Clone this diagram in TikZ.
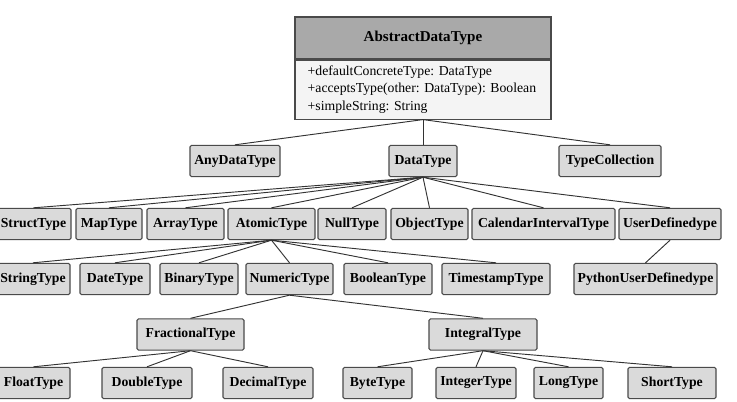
\documentclass[tikz,border=0pt]{standalone}
\usepackage{fontspec}
\setmainfont{Liberation Serif}
\definecolor{boxfill}{HTML}{DADADA}
\definecolor{headfill}{HTML}{A9A9A9}
\definecolor{attrfill}{HTML}{F4F4F4}
\definecolor{boxline}{HTML}{4A4A4A}
\begin{document}
\begin{tikzpicture}[x=0.75pt,y=-0.75pt,
   typebox/.style={draw=boxline,fill=boxfill,rounded corners=1.2pt,line width=0.8pt,inner sep=0pt,minimum height=23.5pt,font=\fontsize{10.3}{12}\selectfont\bfseries},
   link/.style={draw=black!80,line width=0.7pt}]
   \useasboundingbox (0,0) rectangle (737,402);
   % class box
   \node [draw=boxline,fill=headfill,line width=0.8pt,minimum width=192pt,minimum height=31.5pt,font=\fontsize{11.3}{13}\selectfont\bfseries] (adt) at (423,38) {AbstractDataType};
   \node [draw=boxline,fill=attrfill,line width=0.8pt,anchor=north,minimum width=192pt,minimum height=44.25pt,text width=173pt,inner xsep=9.5pt,align=left,font=\fontsize{10.3}{13}\selectfont\frenchspacing] (adtattrs) at (adt.south) {+defaultConcreteType: DataType\\+acceptsType(other: DataType): Boolean\\+simpleString: String};
   % first level
   \node [typebox,minimum width=67.5pt] (anytype) at (235,161) {AnyDataType};
   \node [typebox,minimum width=51pt] (dtype) at (423,161) {DataType};
   \node [typebox,minimum width=76.5pt] (typecoll) at (610,161) {TypeCollection};
   % second level
   \node [typebox,minimum width=56.25pt] (structtype) at (33.5,224) {StructType};
   \node [typebox,minimum width=49.5pt] (maptype) at (109,224) {MapType};
   \node [typebox,minimum width=57.75pt] (arraytype) at (185.5,224) {ArrayType};
   \node [typebox,minimum width=65.25pt] (atomictype) at (271.5,224) {AtomicType};
   \node [typebox,minimum width=51pt] (nulltype) at (352,224) {NullType};
   \node [typebox,minimum width=57.75pt] (objecttype) at (429.5,224) {ObjectType};
   \node [typebox,minimum width=107.25pt] (caltype) at (543.5,224) {CalendarIntervalType};
   \node [typebox,minimum width=76.5pt] (udtype) at (670,224) {UserDefinedype};
   % third level
   \node [typebox,minimum width=55.5pt] (stringtype) at (33,279) {StringType};
   \node [typebox,minimum width=52.5pt] (datetype) at (115,279) {DateType};
   \node [typebox,minimum width=58.5pt] (binarytype) at (199,279) {BinaryType};
   \node [typebox,minimum width=65.25pt] (numerictype) at (289.5,279) {NumericType};
   \node [typebox,minimum width=66pt] (booltype) at (388,279) {BooleanType};
   \node [typebox,minimum width=81pt] (tstype) at (496,279) {TimestampType};
   \node [typebox,minimum width=107.25pt] (pyudtype) at (645.5,279) {PythonUserDefinedype};
   % numeric types
   \node [typebox,minimum width=80.25pt] (fractype) at (190.5,334.5) {FractionalType};
   \node [typebox,minimum width=81pt] (integraltype) at (483,334.5) {IntegralType};
   \node [typebox,minimum width=54.75pt] (floattype) at (33.5,383) {FloatType};
   \node [typebox,minimum width=67.5pt] (doubletype) at (147,383) {DoubleType};
   \node [typebox,minimum width=67.5pt] (decimaltype) at (268,383) {DecimalType};
   \node [typebox,minimum width=51.75pt] (bytetype) at (377.5,383) {ByteType};
   \node [typebox,minimum width=60pt] (integertype) at (476,383) {IntegerType};
   \node [typebox,minimum width=51.75pt] (longtype) at (568.5,383) {LongType};
   \node [typebox,minimum width=66pt] (shorttype) at (672,383) {ShortType};
   % connectors
   \draw [link] (adtattrs.south)--(anytype.north);
   \draw [link] (adtattrs.south)--(dtype.north);
   \draw [link] (adtattrs.south)--(typecoll.north);
   \draw [link] (dtype.south)--(structtype.north);
   \draw [link] (dtype.south)--(maptype.north);
   \draw [link] (dtype.south)--(arraytype.north);
   \draw [link] (dtype.south)--(atomictype.north);
   \draw [link] (dtype.south)--(nulltype.north);
   \draw [link] (dtype.south)--(objecttype.north);
   \draw [link] (dtype.south)--(caltype.north);
   \draw [link] (dtype.south)--(udtype.north);
   \draw [link] (atomictype.south)--(stringtype.north);
   \draw [link] (atomictype.south)--(datetype.north);
   \draw [link] (atomictype.south)--(binarytype.north);
   \draw [link] (atomictype.south)--(numerictype.north);
   \draw [link] (atomictype.south)--(booltype.north);
   \draw [link] (atomictype.south)--(tstype.north);
   \draw [link] (udtype.south)--(pyudtype.north);
   \draw [link] (numerictype.south)--(fractype.north);
   \draw [link] (numerictype.south)--(integraltype.north);
   \draw [link] (fractype.south)--(floattype.north);
   \draw [link] (fractype.south)--(doubletype.north);
   \draw [link] (fractype.south)--(decimaltype.north);
   \draw [link] (integraltype.south)--(bytetype.north);
   \draw [link] (integraltype.south)--(integertype.north);
   \draw [link] (integraltype.south)--(longtype.north);
   \draw [link] (integraltype.south)--(shorttype.north);
\end{tikzpicture}
\end{document}
